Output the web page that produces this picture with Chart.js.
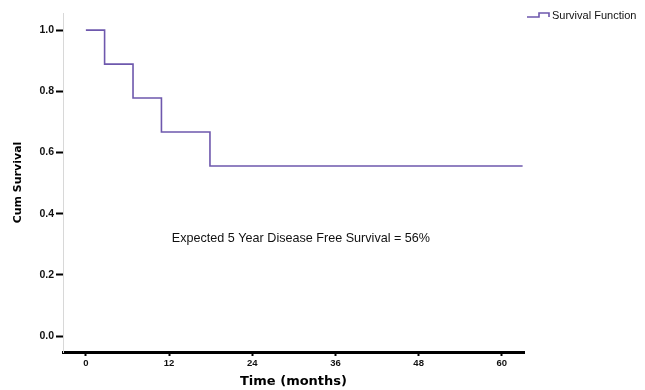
<!DOCTYPE html>
<html>
<head>
<meta charset="utf-8">
<script src="https://cdn.jsdelivr.net/npm/chart.js@4.4.1/dist/chart.umd.min.js"></script>
<style>
html,body{margin:0;padding:0;background:#fff;}
#wrap{width:645px;height:390px;position:relative;}
</style>
</head>
<body>
<div id="wrap"><canvas id="c" width="645" height="390"></canvas></div>
<script>
// Data
const times = [0, 2.7, 6.8, 10.9, 17.9, 63];
const survival = [1.0, 0.889, 0.778, 0.667, 0.556, 0.556];
const xTicks = [0, 12, 24, 36, 48, 60];
const yTicks = [0.0, 0.2, 0.4, 0.6, 0.8, 1.0];
const seriesName = 'Survival Function';
const annotationText = 'Expected 5 Year Disease Free Survival = 56%';
const xTitle = 'Time (months)';
const yTitle = 'Cum Survival';

const lineColor = '#6e58ad';

const overlay = {
  id: 'overlay',
  afterDraw(chart) {
    const ctx = chart.ctx;
    const xs = chart.scales.x, ys = chart.scales.y;
    ctx.save();
    // annotation
    ctx.fillStyle = '#111';
    ctx.font = '12.6px "Liberation Sans", Arial, sans-serif';
    ctx.textBaseline = 'middle';
    ctx.textAlign = 'left';
    ctx.fillText(annotationText, xs.getPixelForValue(12.4), ys.getPixelForValue(0.32));
    // legend
    const lx = 527, ly = 15;
    ctx.strokeStyle = lineColor;
    ctx.lineWidth = 1.6;
    ctx.beginPath();
    ctx.moveTo(lx, ly + 2);
    ctx.lineTo(lx + 12, ly + 2);
    ctx.lineTo(lx + 12, ly - 2);
    ctx.lineTo(lx + 22, ly - 2);
    ctx.lineTo(lx + 22, ly + 2);
    ctx.stroke();
    ctx.fillStyle = '#111';
    ctx.font = '11px "Liberation Sans", Arial, sans-serif';
    ctx.fillText(seriesName, lx + 25, ly + 1);
    ctx.restore();
  }
};

new Chart(document.getElementById('c'), {
  type: 'line',
  data: {
    datasets: [{
      label: seriesName,
      data: times.map((t, i) => ({x: t, y: survival[i]})),
      stepped: 'before',
      borderColor: lineColor,
      borderWidth: 1.6,
      pointRadius: 0,
      fill: false
    }]
  },
  options: {
    responsive: false,
    animation: false,
    layout: {padding: {top: 13, right: 121, left: 0, bottom: 0}},
    plugins: {legend: {display: false}, tooltip: {enabled: false}},
    scales: {
      x: {
        type: 'linear',
        min: -3.3,
        max: 63.2,
        afterBuildTicks: s => { s.ticks = xTicks.map(v => ({value: v})); },
        afterFit: s => { s.height = 38; },
        border: {display: true, color: '#000', width: 3},
        grid: {drawOnChartArea: false, drawTicks: true, tickLength: 4, tickWidth: 2, color: '#000'},
        ticks: {
          color: '#111', padding: 2,
          font: {family: '"Liberation Sans", Arial, sans-serif', size: 9.5, weight: 'bold'},
          callback: v => String(v)
        },
        title: {
          display: true, text: xTitle, color: '#000',
          font: {family: '"DejaVu Sans", sans-serif', size: 13, weight: 'bold'},
          padding: {top: 2, bottom: 1}
        }
      },
      y: {
        min: -0.052,
        max: 1.056,
        afterBuildTicks: s => { s.ticks = yTicks.map(v => ({value: v})); },
        afterFit: s => { s.width = 63; },
        border: {display: true, color: '#d8d8d8', width: 1},
        grid: {drawOnChartArea: false, drawTicks: true, tickLength: 7, tickWidth: 2, color: '#000'},
        ticks: {
          color: '#111', padding: 2,
          font: {family: '"Liberation Sans", Arial, sans-serif', size: 10.5, weight: 'bold'},
          callback: v => Number(v).toFixed(1)
        },
        title: {
          display: true, text: yTitle, color: '#000',
          font: {family: '"DejaVu Sans", sans-serif', size: 11, weight: 'bold'},
          padding: {top: 12, bottom: 0}
        }
      }
    }
  },
  plugins: [overlay]
});
</script>
</body>
</html>
